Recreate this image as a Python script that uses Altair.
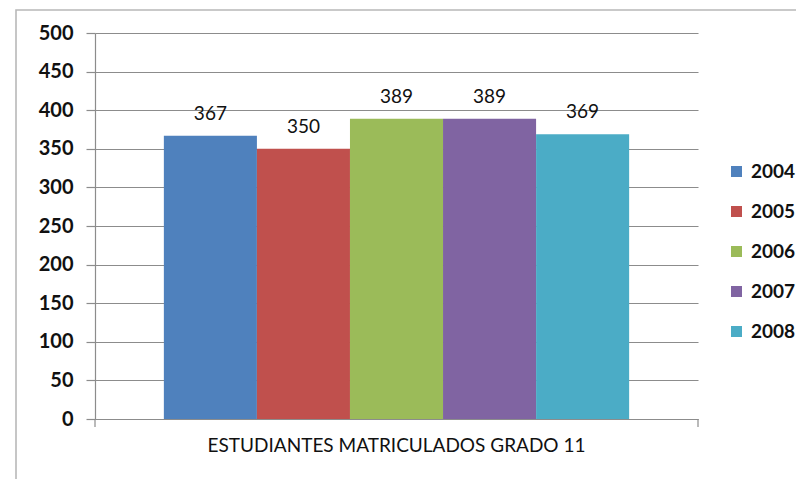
import altair as alt
import pandas as pd

categoria = "ESTUDIANTES MATRICULADOS GRADO 11"
anios = ["2004", "2005", "2006", "2007", "2008"]
valores = [367, 350, 389, 389, 369]
colores = ["#4F81BD", "#C0504D", "#9BBB59", "#8064A2", "#4BACC6"]
y_ticks = list(range(0, 501, 50))

df = pd.DataFrame({"cat": [categoria] * len(anios), "anio": anios, "valor": valores})

W, H = 603, 386
FONT = "Lato"
GRID = "#8c8c8c"

x_enc = alt.X("cat:N", title=None,
              scale=alt.Scale(paddingInner=0, paddingOuter=0.148),
              axis=alt.Axis(labelAngle=0, ticks=False, labelFontSize=19, labelFont=FONT,
                            labelColor="#111111", labelPadding=17, domainColor=GRID,
                            domainWidth=1.2, labelLimit=0))
xo_enc = alt.XOffset("anio:N", scale=alt.Scale(paddingInner=0, paddingOuter=0))
y_enc = alt.Y("valor:Q", title=None,
              scale=alt.Scale(domain=[0, 500], nice=False),
              axis=alt.Axis(values=y_ticks, grid=True, gridColor=GRID, gridWidth=1.2,
                            domainColor=GRID, domainWidth=1.2, tickColor=GRID, tickWidth=1.2,
                            tickSize=9, labelPadding=13, labelFontSize=20, labelFont=FONT,
                            labelColor="#111111", labelFontWeight="bold",
                            labelOverlap=False))

bars = alt.Chart(df).mark_bar().encode(
    x=x_enc,
    xOffset=xo_enc,
    y=y_enc,
    color=alt.Color("anio:N", title=None,
                    scale=alt.Scale(domain=anios, range=colores),
                    legend=alt.Legend(orient="none", legendX=632, legendY=129, padding=0,
                                      symbolType="square", symbolSize=121, symbolStrokeWidth=0,
                                      labelFontSize=19, labelFont=FONT, labelFontWeight="bold",
                                      labelColor="#111111", labelOffset=5, rowPadding=20,
                                      labelLimit=0)),
)

labels = alt.Chart(df).mark_text(baseline="alphabetic", dy=-16, fontSize=19, font=FONT,
                                 color="#111111").encode(
    x=x_enc,
    xOffset=xo_enc,
    y=y_enc,
    text=alt.Text("valor:Q"),
)

frame = alt.Chart(alt.Data(values=[{}])).mark_rect(fill="transparent", stroke="#b8b8b8",
                                                   strokeWidth=1.6).encode(
    x=alt.value(-79), x2=alt.value(760), y=alt.value(-23), y2=alt.value(500))

edge_ticks = alt.Chart(alt.Data(values=[{"p": 0}, {"p": W}])).mark_rule(
    color=GRID, strokeWidth=1.2).encode(
    x=alt.X("p:Q", scale=None), y=alt.value(H), y2=alt.value(H + 8))

chart = alt.layer(frame, bars, labels, edge_ticks).properties(
    width=W, height=H,
    autosize=alt.AutoSizeParams(type="none"),
    padding={"left": 87, "top": 25, "right": 98, "bottom": 60},
).configure_view(strokeWidth=0)

chart.save("out.html", embed_options={"renderer": "svg", "actions": False})
